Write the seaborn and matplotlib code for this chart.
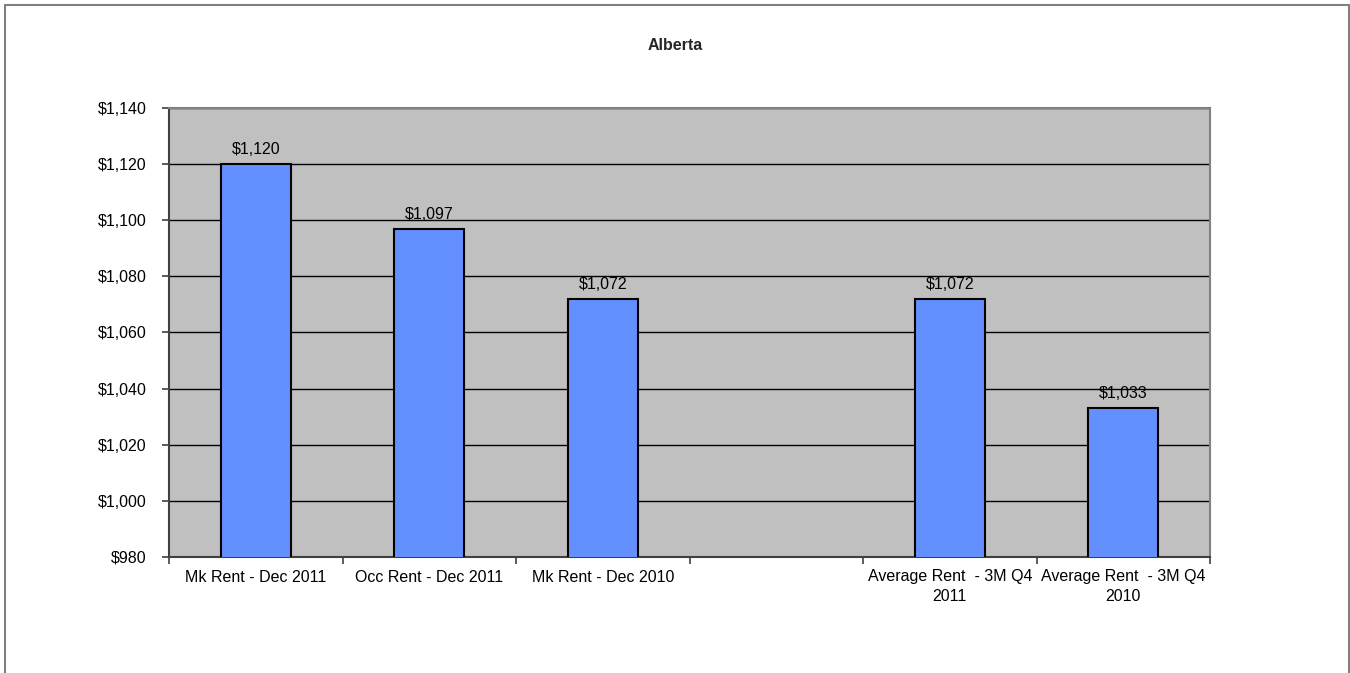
import numpy as np
import pandas as pd
import matplotlib
matplotlib.use("Agg")
import matplotlib.pyplot as plt
from matplotlib.lines import Line2D
import seaborn as sns

categories = ["Mk Rent - Dec 2011", "Occ Rent - Dec 2011", "Mk Rent - Dec 2010", " ",
              "Average Rent  - 3M Q4\n2011", "Average Rent  - 3M Q4\n2010"]
values = [1120, 1097, 1072, np.nan, 1072, 1033]
yticks = [980, 1000, 1020, 1040, 1060, 1080, 1100, 1120, 1140]
title = "Alberta"

sns.set_theme(style="white")
plt.rcParams['font.family'] = ['Liberation Sans', 'DejaVu Sans']

FS = 11.5
df = pd.DataFrame({"cat": categories, "val": values})

fig = plt.figure(figsize=(13.5, 6.73), dpi=100)
ax = fig.add_axes([169/1350, 1-557/673, (1210-169)/1350, (557-108)/673])
ax.set_facecolor("#C0C0C0")

sns.barplot(data=df, x="cat", y="val", order=categories, color="#6490FF",
            saturation=1, width=0.403, edgecolor="black", linewidth=1.5, ax=ax, zorder=3)

ax.set_ylim(980, 1140)
ax.set_xlim(-0.5, len(categories) - 0.5)
ax.set_yticks(yticks)
ax.set_yticklabels([f"${v:,}" for v in yticks], fontsize=FS, color="black")
ax.yaxis.grid(True, color="black", linewidth=1, zorder=0)
ax.set_axisbelow(True)
ax.set_xlabel("")
ax.set_ylabel("")

ax.set_xticks(range(len(categories)))
ax.set_xticklabels(categories, fontsize=FS, color="black", linespacing=1.35)
ax.tick_params(axis="x", which="major", length=0, pad=9)
ax.set_xticks(np.arange(-0.5, len(categories), 1.0), minor=True)
ax.tick_params(axis="x", which="minor", length=5, width=1.2, color="#404040", direction="out", bottom=True)
ax.tick_params(axis="y", which="major", length=5, width=1.2, color="#404040", direction="out", left=True, pad=11)

for side in ["left", "bottom"]:
    ax.spines[side].set_color("#404040")
    ax.spines[side].set_linewidth(1.5)
for side in ["top", "right"]:
    ax.spines[side].set_color("#808080")
    ax.spines[side].set_linewidth(1.5)

for p in ax.patches:
    h = p.get_height()
    if np.isnan(h):
        continue
    ax.annotate(f"${h:,.0f}", (p.get_x() + p.get_width() / 2, h),
                xytext=(0, 5), textcoords="offset points",
                ha="center", va="bottom", fontsize=FS, color="black")

fig.text(0.5, 1-45/673, title, ha="center", va="center", fontsize=FS, fontweight="bold")

# figure border
x0, x1, yt = 5/1350, 1348.5/1350, 1-4.5/673
for xs, ys in [([x0, x0], [0, yt]), ([x0, x1], [yt, yt]), ([x1, x1], [yt, 0])]:
    fig.add_artist(Line2D(xs, ys, color="#808080", linewidth=1.5, transform=fig.transFigure))

fig.savefig("out.png", dpi=100)
